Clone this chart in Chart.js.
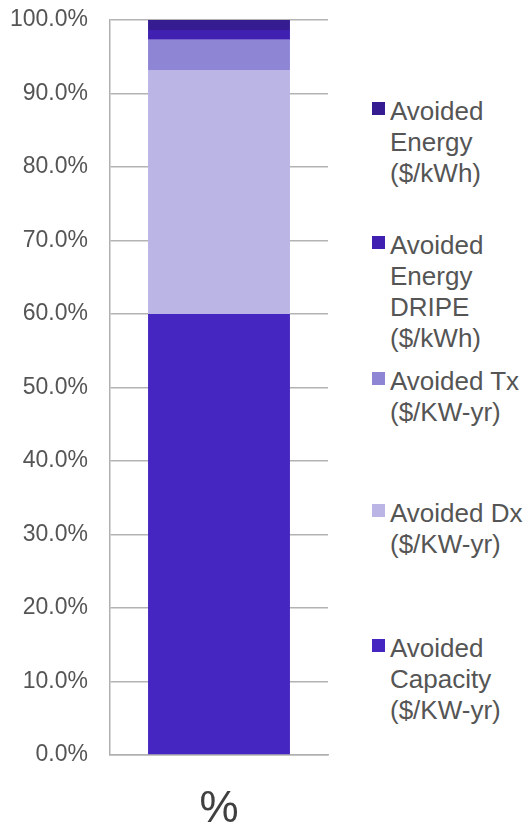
<!DOCTYPE html>
<html>
<head>
<meta charset="utf-8">
<script src="https://cdn.jsdelivr.net/npm/chart.js@4"></script>
<style>
  body { margin: 0; background: #fff; font-family: "Liberation Sans", Arial, sans-serif; }
  #wrap { position: relative; width: 529px; height: 829px; }
  #chart { position: absolute; left: 0; top: 0; }
  .item { position: absolute; left: 372px; font-size: 26px; line-height: 31px; color: #555555; white-space: nowrap; }
  .item span.box { position: absolute; left: 0; top: 6px; width: 13px; height: 13px; }
  .item div.txt { margin-left: 18px; }
</style>
</head>
<body>
<div id="wrap">
  <canvas id="chart" width="340" height="829"></canvas>
  <div id="legenda"></div>
</div>
<script>
var categorias = ["%"];
var series = ["Avoided Capacity ($/KW-yr)", "Avoided Dx ($/KW-yr)", "Avoided Tx ($/KW-yr)", "Avoided Energy DRIPE ($/kWh)", "Avoided Energy ($/kWh)"];
var valores = [60.0, 33.2, 4.1, 1.35, 1.35];
var cores = ["#4526c0", "#bab5e4", "#8e86d4", "#3f20b0", "#361c91"];
var legendaLinhas = [
    ["Avoided", "Energy", "($/kWh)"],
    ["Avoided", "Energy", "DRIPE", "($/kWh)"],
    ["Avoided Tx", "($/KW-yr)"],
    ["Avoided Dx", "($/KW-yr)"],
    ["Avoided", "Capacity", "($/KW-yr)"]
];
var legendaCores = ["#361c91", "#3f20b0", "#8e86d4", "#bab5e4", "#4526c0"];
var legendaTopo = [96, 230, 366, 498, 633];

function MontarDatasets() {
    var ds = [];
    for (var i = 0; i < series.length; i++) {
        ds.push({
            label: series[i],
            data: [valores[i]],
            backgroundColor: cores[i],
            borderWidth: 0,
            categoryPercentage: 1,
            barPercentage: 0.651
        });
    }
    return ds;
}

function MontarLegenda() {
    var html = "";
    for (var i = 0; i < legendaLinhas.length; i++) {
        html += '<div class="item" style="top:' + legendaTopo[i] + 'px">' +
            '<span class="box" style="background:' + legendaCores[i] + '"></span>' +
            '<div class="txt">' + legendaLinhas[i].join("<br>") + '</div></div>';
    }
    document.getElementById("legenda").innerHTML = html;
}

MontarLegenda();

var ctx = document.getElementById("chart").getContext('2d');
var grafico = new Chart(ctx, {
    type: 'bar',
    data: {
        labels: categorias,
        datasets: MontarDatasets()
    },
    options: {
        responsive: false,
        animation: false,
        layout: { padding: { top: 20, right: 12, left: 0, bottom: 0 } },
        plugins: {
            legend: { display: false },
            tooltip: { enabled: false }
        },
        scales: {
            x: {
                stacked: true,
                grid: { display: false, drawTicks: false },
                border: { color: "#b0b0b0", width: 1.5 },
                ticks: {
                    color: "#404040",
                    padding: 28,
                    font: { family: "Liberation Sans", size: 44 }
                },
                afterFit: function (axis) {
                    axis.height = 74;
                    axis.paddingLeft = 0;
                    axis.paddingRight = 0;
                }
            },
            y: {
                stacked: true,
                min: 0,
                max: 100,
                grid: { color: "#b3b3b3", lineWidth: 1.5, drawTicks: false },
                border: { color: "#b0b0b0", width: 1.5 },
                ticks: {
                    stepSize: 10,
                    color: "#555555",
                    padding: 22,
                    font: { family: "Liberation Sans", size: 23 },
                    callback: function (v) { return v.toFixed(1) + "%"; }
                },
                afterFit: function (axis) {
                    axis.width = 110;
                    axis.paddingTop = 0;
                    axis.paddingBottom = 0;
                }
            }
        }
    }
});
</script>
</body>
</html>
